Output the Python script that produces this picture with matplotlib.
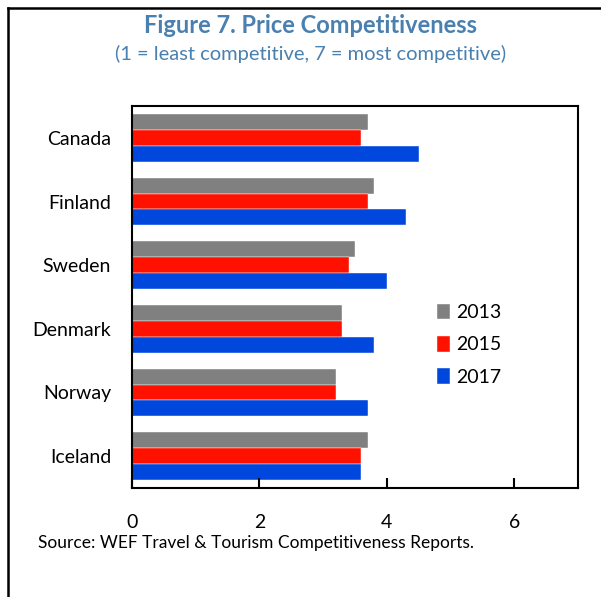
import matplotlib.pyplot as plt
import numpy as np

plt.rcParams['font.family'] = ['Lato', 'DejaVu Sans']

countries = ["Canada", "Finland", "Sweden", "Denmark", "Norway", "Iceland"]
years = ["2013", "2015", "2017"]
score_2013 = [3.7, 3.8, 3.5, 3.3, 3.2, 3.7]
score_2015 = [3.6, 3.7, 3.4, 3.3, 3.2, 3.6]
score_2017 = [4.5, 4.3, 4.0, 3.8, 3.7, 3.6]
colors = ["#808080", "#ff1100", "#0047dd"]

fig = plt.figure(figsize=(6.01, 5.97), dpi=100)
ax = fig.add_axes([0.2196, 0.1826, 0.7421, 0.6398])

pos = np.arange(len(countries))
h = 0.25
for k, (vals, yr) in enumerate(zip([score_2013, score_2015, score_2017], years)):
    ax.barh(pos + (k - 1) * h, vals, height=h, color=colors[k], label=yr,
            edgecolor='white', linewidth=0.3)

ax.set_xlim(0, 7)
ax.set_ylim(-0.5, len(countries) - 0.5)
ax.invert_yaxis()
ax.set_xticks([0, 2, 4, 6])
ax.set_yticks(pos)
ax.set_yticklabels(countries, fontsize=14)
ax.tick_params(axis='x', direction='in', length=7, width=1.5, pad=19, labelsize=14)
ax.tick_params(axis='y', length=0, pad=15)
for s in ax.spines.values():
    s.set_linewidth(1.5)

ax.legend(loc='center left', bbox_to_anchor=(0.645, 0.375), frameon=False,
          fontsize=14, handlelength=0.65, handleheight=0.85, handletextpad=0.35,
          labelspacing=0.75)

fig.text(0.516, 0.957, "Figure 7. Price Competitiveness", ha='center', va='center',
         fontsize=17, fontweight='bold', color='#4a80b0')
fig.text(0.516, 0.91, "(1 = least competitive, 7 = most competitive)", ha='center',
         va='center', fontsize=14.5, color='#4a80b0')
fig.text(0.063, 0.09, "Source: WEF Travel & Tourism Competitiveness Reports.",
         ha='left', va='center', fontsize=12.5)

# outer frame on the left and top edges
fig.add_artist(plt.Line2D([0.0141, 0.0141], [0, 0.9866], color='black', lw=1.8))
fig.add_artist(plt.Line2D([0.0141, 1.0], [0.9866, 0.9866], color='black', lw=1.8))

fig.savefig("out.png", dpi=100)
